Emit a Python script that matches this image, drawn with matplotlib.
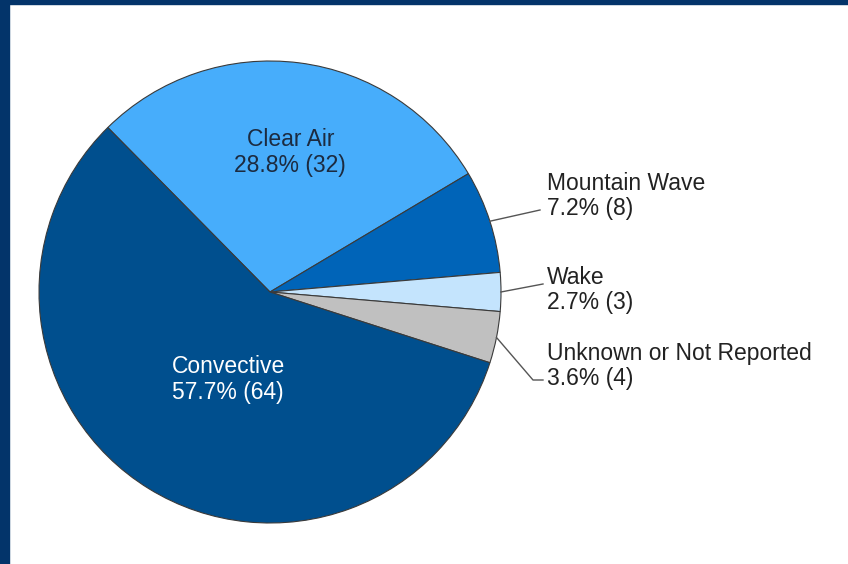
import numpy as np
import matplotlib
matplotlib.use("Agg")
import matplotlib.pyplot as plt
from matplotlib.patches import Rectangle

# turbulence encounters by type
labels = ["Clear Air", "Mountain Wave", "Wake", "Unknown or Not Reported", "Convective"]
counts = [32, 8, 3, 4, 64]
colors = ["#47adfb", "#0064b8", "#c4e4fd", "#c0c0c0", "#004f8e"]

W, H = 848, 564
plt.rcParams["font.family"] = ["Liberation Sans", "DejaVu Sans"]

fig = plt.figure(figsize=(W / 100, H / 100), dpi=100)
fig.patch.set_facecolor("white")

# navy frame on top and left
fig.patches.append(Rectangle((0, 1 - 4 / H), 1, 4 / H, transform=fig.transFigure,
                             color="#03346a", zorder=10))
fig.patches.append(Rectangle((0, 0), 9 / W, 1, transform=fig.transFigure,
                             color="#03346a", zorder=10))

ax = fig.add_axes([0, 0, 1, 1])

def py(y):
    # pixel row -> data y
    return H - y

cx, cy, R = 270, py(292), 231
wedges, _ = ax.pie(counts, colors=colors, startangle=134.6, counterclock=False,
                   center=(cx, cy), radius=R, frame=True,
                   wedgeprops=dict(edgecolor="#3a3a3a", linewidth=0.8))
ax.set_xlim(0, W)
ax.set_ylim(0, H)
ax.axis("off")

total = sum(counts)

def label_text(i):
    pct = counts[i] / total * 100
    return f"{labels[i]}\n{pct:.1f}% ({counts[i]})"

def mid_point(w, r):
    a = np.deg2rad((w.theta1 + w.theta2) / 2)
    return cx + r * np.cos(a), cy + r * np.sin(a)

fs = 16.5
# labels inside the two large slices
inside = {0: (0.61, -1.0, "#1c2b40"), 4: (0.42, 6.0, "white")}
for i, (frac, dang, col) in inside.items():
    w = wedges[i]
    a = np.deg2rad((w.theta1 + w.theta2) / 2 + dang)
    x, y = cx + frac * R * np.cos(a), cy + frac * R * np.sin(a)
    ax.text(x, y, label_text(i), ha="center", va="center", fontsize=fs,
            color=col, linespacing=1.18)

# outside labels with leader lines
tx = 547
outside = {1: (196, [(540, 210)]), 2: (290, [(543, 284)]),
           3: (366, [(533, 380), (543, 380)])}
for i, (ty, path) in outside.items():
    x0, y0 = mid_point(wedges[i], R)
    xs = [x0] + [p[0] for p in path]
    ys = [y0] + [py(p[1]) for p in path]
    ax.plot(xs, ys, color="#555555", linewidth=1.0)
    ax.text(tx, py(ty), label_text(i), ha="left", va="center", fontsize=fs,
            color="#222222", linespacing=1.15)

fig.savefig("out.png", dpi=100)
